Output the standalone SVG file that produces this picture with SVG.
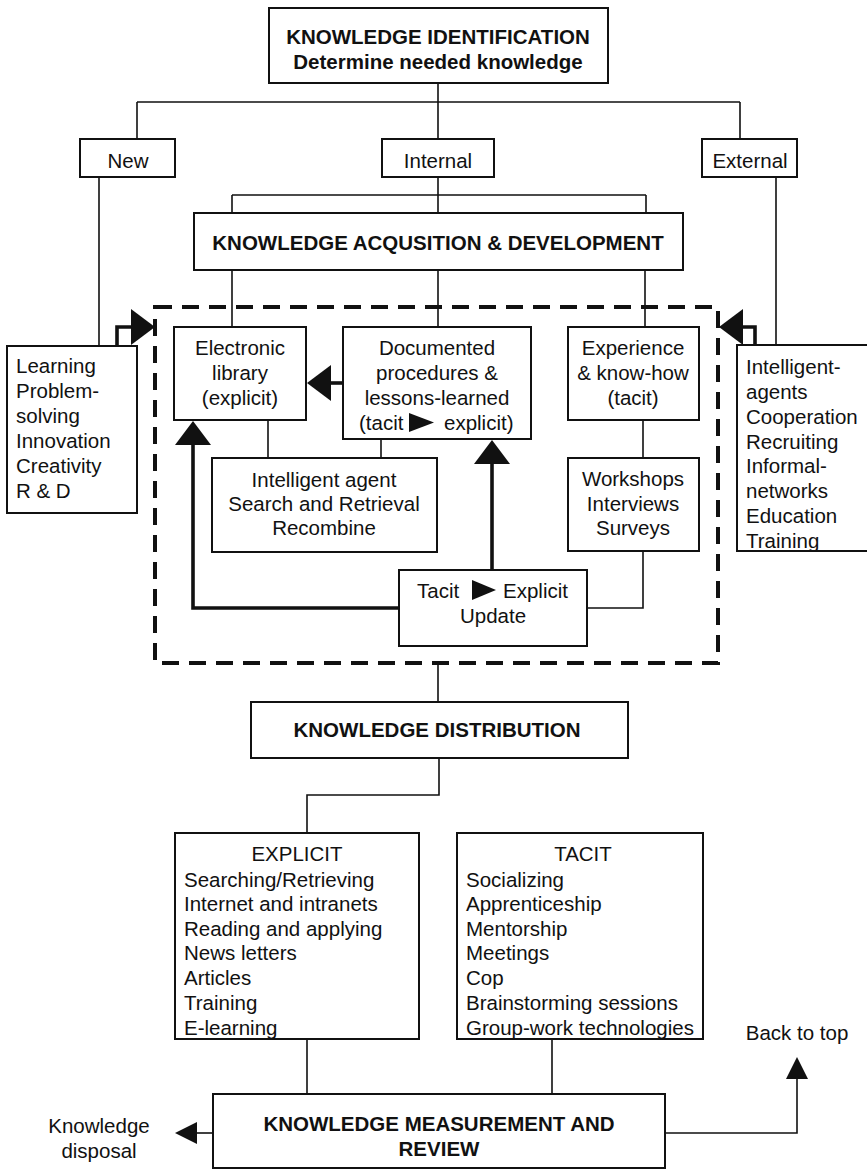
<svg xmlns="http://www.w3.org/2000/svg" width="867" height="1170" viewBox="0 0 867 1170">
<style>
.box{fill:#fff;stroke:#111;stroke-width:2}
.ln{fill:none;stroke:#111;stroke-width:1.6}
.thick{fill:none;stroke:#111;stroke-width:3.6}
.dash{fill:none;stroke:#111;stroke-width:4;stroke-dasharray:17 10}
.t{font-family:"Liberation Sans",Arial,sans-serif;font-size:20.5px;fill:#111}
.b{font-weight:bold}
.c{text-anchor:middle}
.tri{fill:#111}
</style>
<defs>
<marker id="big" markerUnits="userSpaceOnUse" markerWidth="24" markerHeight="36" refX="0" refY="18" orient="auto" overflow="visible">
<path d="M0,0 L24,18 L0,36 Z" fill="#111"/>
</marker>
<marker id="small" markerUnits="userSpaceOnUse" markerWidth="22" markerHeight="22" refX="0" refY="11" orient="auto" overflow="visible">
<path d="M0,0 L22,11 L0,22 Z" fill="#111"/>
</marker>
</defs>
<rect width="867" height="1170" fill="#fff"/>

<g id="connectors">
<path class="ln" d="M438,83 V102 M137,102 H740 M137,102 V139 M438,102 V139 M740,102 V139"/>
<path class="ln" d="M438,177 V213 M232,195 H646 M232,195 V213 M646,195 V213"/>
<path class="ln" d="M232,270 V327 M438,270 V327 M645,270 V327"/>
<path class="ln" d="M99,177 V346 M776,177 V345"/>
<path class="ln" d="M268,420 V458 M381,439 V458 M643,420 V458 M643,551 V608 H587"/>
<path class="thick" d="M117,346 V327 H131" marker-end="url(#big)"/>
<path class="thick" d="M755,345 V327 H743" marker-end="url(#big)"/>
<path class="thick" d="M343,383 H331" marker-end="url(#big)"/>
<path class="thick" d="M399,608 H193 V445" marker-end="url(#big)"/>
<path class="thick" d="M492,570 V464" marker-end="url(#big)"/>
<path class="ln" d="M438,663 V702 M439,758 V795 H307 V833"/>
<path class="ln" d="M307,1039 V1094 M552,1039 V1094"/>
<path class="ln" stroke-width="2" d="M213,1133 H197" marker-end="url(#small)"/>
<path class="ln" stroke-width="2" d="M665,1133 H797 V1079" marker-end="url(#small)"/>
</g>

<g id="acquisition-boundary">
<rect class="dash" x="155" y="307" width="563" height="356"/>
</g>

<g id="knowledge-identification">
<rect class="box" x="269" y="8" width="339" height="75"/>
<text class="t b c" x="438" y="44">KNOWLEDGE IDENTIFICATION</text>
<text class="t b c" x="438" y="69">Determine needed knowledge</text>
</g>

<g id="new">
<rect class="box" x="80" y="139" width="95" height="38"/>
<text class="t c" x="128" y="168">New</text>
</g>
<g id="internal">
<rect class="box" x="382" y="139" width="112" height="38"/>
<text class="t c" x="438" y="168">Internal</text>
</g>
<g id="external">
<rect class="box" x="702" y="139" width="95" height="38"/>
<text class="t c" x="750" y="168">External</text>
</g>

<g id="knowledge-acquisition">
<rect class="box" x="194" y="213" width="489" height="57"/>
<text class="t b c" x="438" y="250">KNOWLEDGE ACQUSITION &amp; DEVELOPMENT</text>
</g>

<g id="new-sources">
<rect class="box" x="7" y="346" width="130" height="167"/>
<text class="t" x="16" y="373">Learning</text>
<text class="t" x="16" y="398">Problem-</text>
<text class="t" x="16" y="423">solving</text>
<text class="t" x="16" y="448">Innovation</text>
<text class="t" x="16" y="473">Creativity</text>
<text class="t" x="16" y="498">R &amp; D</text>
</g>

<g id="external-sources">
<rect class="box" x="737" y="345" width="132" height="206"/>
<text class="t" x="746" y="374">Intelligent-</text>
<text class="t" x="746" y="399">agents</text>
<text class="t" x="746" y="424">Cooperation</text>
<text class="t" x="746" y="449">Recruiting</text>
<text class="t" x="746" y="473">Informal-</text>
<text class="t" x="746" y="498">networks</text>
<text class="t" x="746" y="523">Education</text>
<text class="t" x="746" y="548">Training</text>
</g>

<g id="electronic-library">
<rect class="box" x="174" y="327" width="132" height="93"/>
<text class="t c" x="240" y="355">Electronic</text>
<text class="t c" x="240" y="380">library</text>
<text class="t c" x="240" y="405">(explicit)</text>
</g>

<g id="documented-procedures">
<rect class="box" x="343" y="327" width="188" height="112"/>
<text class="t c" x="437" y="355">Documented</text>
<text class="t c" x="437" y="380">procedures &amp;</text>
<text class="t c" x="437" y="405">lessons-learned</text>
<text class="t" x="359" y="430">(tacit</text>
<polygon class="tri" points="409,413 409,432 434,422.5"/>
<text class="t" x="444" y="430">explicit)</text>
</g>

<g id="experience">
<rect class="box" x="568" y="327" width="131" height="93"/>
<text class="t c" x="633" y="355">Experience</text>
<text class="t c" x="633" y="380">&amp; know-how</text>
<text class="t c" x="633" y="405">(tacit)</text>
</g>

<g id="intelligent-agent">
<rect class="box" x="212" y="458" width="225" height="94"/>
<text class="t c" x="324" y="487">Intelligent agent</text>
<text class="t c" x="324" y="511">Search and Retrieval</text>
<text class="t c" x="324" y="535">Recombine</text>
</g>

<g id="workshops">
<rect class="box" x="568" y="458" width="131" height="93"/>
<text class="t c" x="633" y="486">Workshops</text>
<text class="t c" x="633" y="511">Interviews</text>
<text class="t c" x="633" y="535">Surveys</text>
</g>

<g id="tacit-explicit-update">
<rect class="box" x="399" y="570" width="188" height="76"/>
<text class="t" x="417" y="598">Tacit</text>
<polygon class="tri" points="472,580 472,600 496,590"/>
<text class="t" x="503" y="598">Explicit</text>
<text class="t c" x="493" y="623">Update</text>
</g>

<g id="knowledge-distribution">
<rect class="box" x="251" y="702" width="377" height="56"/>
<text class="t b c" x="437" y="737">KNOWLEDGE DISTRIBUTION</text>
</g>

<g id="explicit">
<rect class="box" x="175" y="833" width="244" height="206"/>
<text class="t c" x="297" y="861">EXPLICIT</text>
<text class="t" x="184" y="887">Searching/Retrieving</text>
<text class="t" x="184" y="911">Internet and intranets</text>
<text class="t" x="184" y="936">Reading and applying</text>
<text class="t" x="184" y="960">News letters</text>
<text class="t" x="184" y="985">Articles</text>
<text class="t" x="184" y="1010">Training</text>
<text class="t" x="184" y="1035">E-learning</text>
</g>

<g id="tacit">
<rect class="box" x="457" y="833" width="246" height="206"/>
<text class="t c" x="583" y="861">TACIT</text>
<text class="t" x="466" y="887">Socializing</text>
<text class="t" x="466" y="911">Apprenticeship</text>
<text class="t" x="466" y="936">Mentorship</text>
<text class="t" x="466" y="960">Meetings</text>
<text class="t" x="466" y="985">Cop</text>
<text class="t" x="466" y="1010">Brainstorming sessions</text>
<text class="t" x="466" y="1035">Group-work technologies</text>
</g>

<g id="knowledge-measurement">
<rect class="box" x="213" y="1094" width="452" height="74"/>
<text class="t b c" x="439" y="1131">KNOWLEDGE MEASUREMENT AND</text>
<text class="t b c" x="439" y="1156">REVIEW</text>
</g>

<g id="knowledge-disposal">
<text class="t c" x="99" y="1133">Knowledge</text>
<text class="t c" x="99" y="1158">disposal</text>
</g>

<g id="back-to-top">
<text class="t c" x="797" y="1040">Back to top</text>
</g>
</svg>
